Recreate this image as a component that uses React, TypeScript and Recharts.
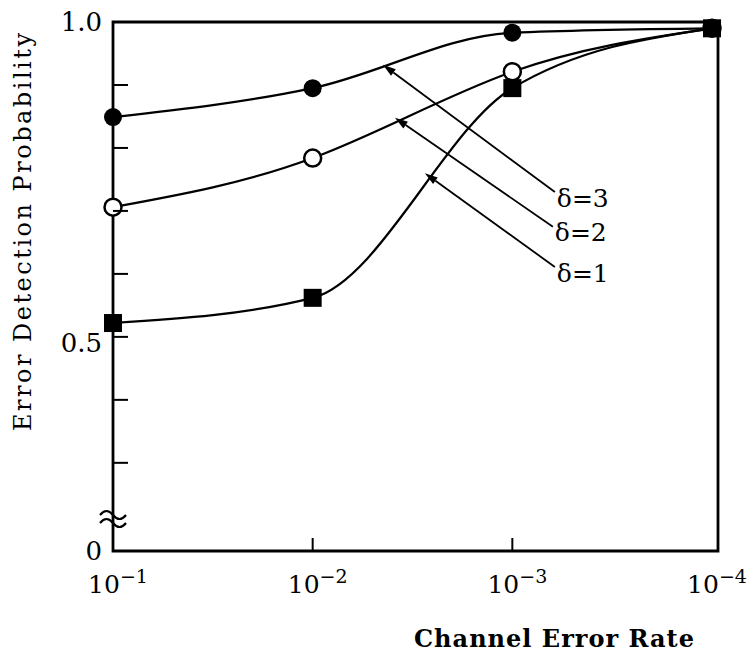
import { LineChart, Line, XAxis, YAxis, ReferenceArea, ReferenceLine } from 'recharts'

// channel error rate = 10^-exp
const rateExponents = [1, 2, 3, 4]
const delta1 = [0.522, 0.562, 0.895, 0.99]
const delta2 = [0.706, 0.784, 0.921, 0.99]
const delta3 = [0.849, 0.895, 0.983, 0.99]

const xTicks = [1, 2, 3, 4]
// the axis is broken below 0.3, its bottom edge stands for 0
const yBottom = 0.16
const yTicks = [yBottom, 0.3, 0.4, 0.5, 0.6, 0.7, 0.8, 0.9, 1.0]
const yTickLabels: Record<string, string> = { '0.16': '0', '0.5': '0.5', '1': '1.0' }

const arrowLabels = ['δ=3', 'δ=2', 'δ=1']
const arrowFrom = [
  { x: 3.213, y: 0.73 },
  { x: 3.203, y: 0.675 },
  { x: 3.213, y: 0.611 },
]
const arrowTo = [
  { x: 2.352, y: 0.932 },
  { x: 2.412, y: 0.848 },
  { x: 2.562, y: 0.76 },
]

const data = rateExponents.map((exp, i) => ({
  exp,
  d1: delta1[i],
  d2: delta2[i],
  d3: delta3[i],
}))

const FONT = '"DejaVu Serif", serif'

function XTick({ x, y, payload }: any) {
  const v = payload.value
  return (
    <g>
      {(v === 2 || v === 3) && (
        <line x1={x} y1={y} x2={x} y2={y - 13} stroke="#000" strokeWidth={2} />
      )}
      <text x={x + 5} y={y + 42} textAnchor="middle" fontSize={25} fill="#000" fontFamily={FONT}>
        10
        <tspan dy={-10} fontSize={19}>
          −{v}
        </tspan>
      </text>
    </g>
  )
}

function YTick({ x, y, payload }: any) {
  const v = payload.value
  const label = yTickLabels[String(v)]
  const inner = v > yBottom && v < 1
  return (
    <g>
      {inner && <line x1={x} y1={y} x2={x + 15} y2={y} stroke="#000" strokeWidth={2} />}
      {label && (
        <text x={x - 11} y={y + (v === 0.5 ? 6 : 0)} dy="0.35em" textAnchor="end" fontSize={26} fill="#000" fontFamily={FONT}>
          {label}
        </text>
      )}
      {v === yBottom && (
        <g fill="none" stroke="#000" strokeWidth={2.2}>
          <path d={`M${x - 13},${y - 36} q 6.5,-8 13,0 t 13,0`} />
          <path d={`M${x - 13},${y - 28} q 6.5,-8 13,0 t 13,0`} />
        </g>
      )}
    </g>
  )
}

const dotCircle = (p: any) => <circle key={`c3-${p.index}`} cx={p.cx} cy={p.cy} r={9} fill="#000" />
const dotOpen = (p: any) => (
  <circle key={`c2-${p.index}`} cx={p.cx} cy={p.cy} r={8.5} fill="#fff" stroke="#000" strokeWidth={2.5} />
)
const dotSquare = (p: any) => (
  <rect key={`s1-${p.index}`} x={p.cx - 9} y={p.cy - 9} width={18} height={18} fill="#000" />
)

function makeArrow(label: string) {
  return (p: any) => {
    const { x1, y1, x2, y2 } = p
    const ang = Math.atan2(y2 - y1, x2 - x1)
    const len = 13
    const w = 4
    const bx = x2 - len * Math.cos(ang)
    const by = y2 - len * Math.sin(ang)
    const pts = `${x2},${y2} ${bx - w * Math.sin(ang)},${by + w * Math.cos(ang)} ${bx + w * Math.sin(ang)},${by - w * Math.cos(ang)}`
    return (
      <g>
        <line x1={x1} y1={y1} x2={bx} y2={by} stroke="#000" strokeWidth={1.8} />
        <polygon points={pts} fill="#000" />
        <text x={x1 + 2} y={y1 + 6} dy="0.35em" fontSize={25} fill="#000" fontFamily={FONT}>
          {label}
        </text>
      </g>
    )
  }
}

const YLabel = () => (
  <text
    x={23}
    y={232}
    transform="rotate(-90 23 232)"
    textAnchor="middle"
    dy="0.35em"
    fontSize={24}
    textLength={398}
    lengthAdjust="spacing"
    fill="#000"
    fontFamily={FONT}
  >
    Error Detection Probability
  </text>
)

const XLabel = () => (
  <text
    x={554}
    y={647}
    textAnchor="middle"
    fontSize={24}
    fontWeight="bold"
    textLength={280}
    lengthAdjust="spacing"
    fill="#000"
    fontFamily={FONT}
  >
    Channel Error Rate
  </text>
)

export default function App() {
  return (
    <div style={{ width: 752, height: 658, background: '#fff', fontFamily: FONT }}>
      <style>{'body{margin:0}'}</style>
      <LineChart width={752} height={658} data={data} margin={{ top: 22, right: 34, left: 0, bottom: 0 }}>
        <XAxis
          dataKey="exp"
          type="number"
          domain={[1, 4.03]}
          ticks={xTicks}
          height={107}
          axisLine={false}
          tickLine={false}
          tickSize={0}
          tickMargin={0}
          tick={<XTick />}
          label={{ content: XLabel }}
        />
        <YAxis
          type="number"
          domain={[yBottom, 1]}
          ticks={yTicks}
          width={113}
          axisLine={false}
          tickLine={false}
          tickSize={0}
          tickMargin={0}
          tick={<YTick />}
          label={{ content: YLabel }}
        />
        <ReferenceArea
          x1={1}
          x2={4.03}
          y1={yBottom}
          y2={1}
          fill="none"
          stroke="#000"
          strokeWidth={2.8}
          ifOverflow="visible"
        />
        {arrowLabels.map((label, i) => (
          <ReferenceLine
            key={label}
            segment={[arrowFrom[i], arrowTo[i]]}
            shape={makeArrow(label)}
            ifOverflow="visible"
          />
        ))}
        <Line type="monotone" dataKey="d3" stroke="#000" strokeWidth={2.2} dot={dotCircle} activeDot={false} isAnimationActive={false} />
        <Line type="natural" dataKey="d2" stroke="#000" strokeWidth={2.2} dot={dotOpen} activeDot={false} isAnimationActive={false} />
        <Line type="monotone" dataKey="d1" stroke="#000" strokeWidth={2.2} dot={dotSquare} activeDot={false} isAnimationActive={false} />
      </LineChart>
    </div>
  )
}
